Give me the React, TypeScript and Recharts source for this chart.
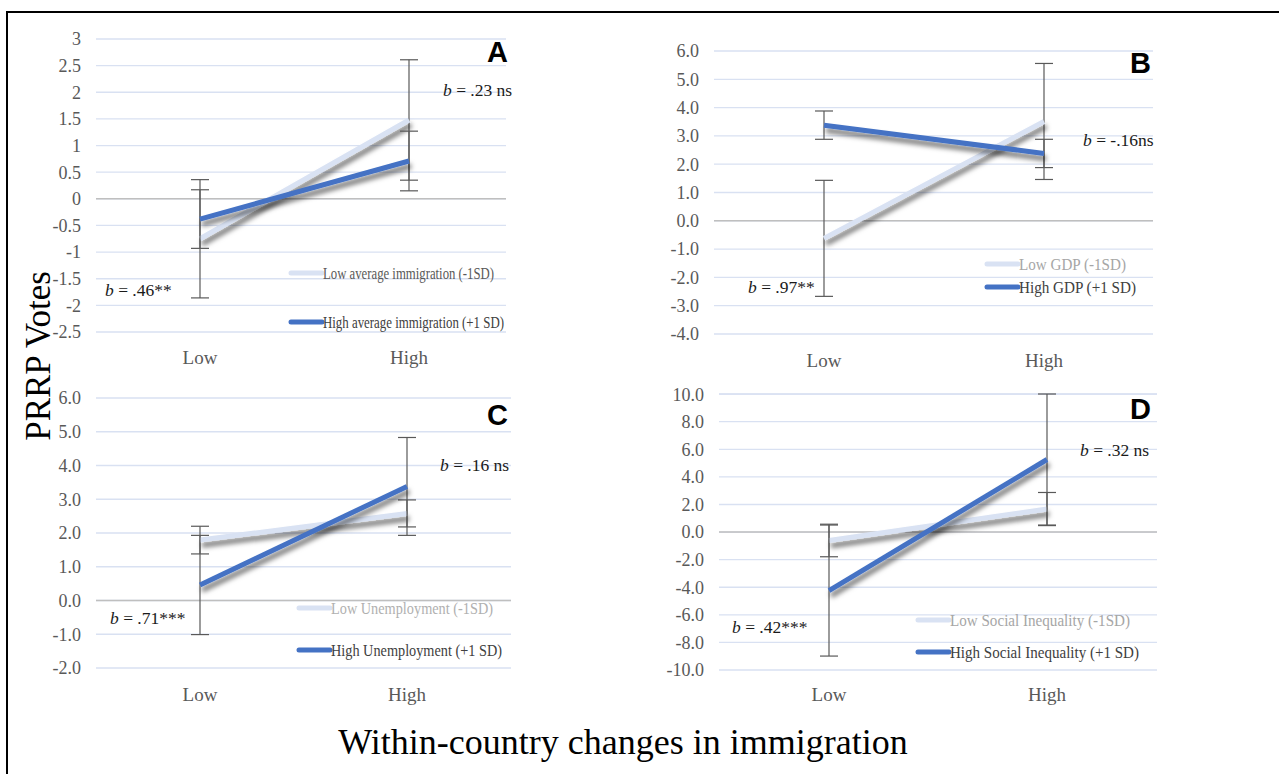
import React from 'react'
import { LineChart, Line, XAxis, YAxis, CartesianGrid, ErrorBar, ReferenceLine } from 'recharts'

const categories = ['Low', 'High']

// Panel A – average immigration
const aLowSeries = [-0.75, 1.48]
const aLowErr = [1.11, 1.13]
const aHighSeries = [-0.38, 0.71]
const aHighErr = [0.55, 0.56]
const aTicks = [-2.5, -2, -1.5, -1, -0.5, 0, 0.5, 1, 1.5, 2, 2.5, 3]

// Panel B – GDP
const bLowSeries = [-0.62, 3.51]
const bLowErr = [2.05, 2.05]
const bHighSeries = [3.38, 2.38]
const bHighErr = [0.5, 0.5]
const bTicks = [-4, -3, -2, -1, 0, 1, 2, 3, 4, 5, 6]

// Panel C – unemployment
const cLowSeries = [1.79, 2.58]
const cLowErr = [0.41, 0.4]
const cHighSeries = [0.46, 3.38]
const cHighErr = [1.47, 1.45]
const cTicks = [-2, -1, 0, 1, 2, 3, 4, 5, 6]

// Panel D – social inequality
const dLowSeries = [-0.61, 1.67]
const dLowErr = [1.18, 1.2]
const dHighSeries = [-4.24, 5.26]
const dHighErr = [4.75, 4.75]
const dTicks = [-10, -8, -6, -4, -2, 0, 2, 4, 6, 8, 10]

const LIGHT = '#d9e2f3'
const BLUE = '#4472c4'
const SERIF = '"Liberation Serif", "Times New Roman", serif'

const build = (low: number[], lowErr: number[], high: number[], highErr: number[]) =>
  categories.map((cat, i) => ({ cat, low: low[i], lowErr: lowErr[i], high: high[i], highErr: highErr[i] }))

const fmtInt = (v: number) => String(v)
const fmtOne = (v: number) => v.toFixed(1)

interface PanelProps {
  data: ReturnType<typeof build>
  ticks: number[]
  fmt: (v: number) => string
  x: number
  y: number
  w: number
  h: number
  padL: number
  padR: number
  catMargin: number
}

function Panel({ data, ticks, fmt, x, y, w, h, padL, padR, catMargin }: PanelProps) {
  const yAxisW = 90
  return (
    <div style={{ position: 'absolute', left: x - yAxisW, top: y - 12 }}>
      <LineChart
        width={w + yAxisW + 12}
        height={h + 70}
        data={data}
        margin={{ top: 12, right: 12, left: 0, bottom: 18 }}
      >
        <CartesianGrid vertical={false} stroke="#d9e1f2" strokeWidth={1.3} />
        <XAxis
          dataKey="cat"
          axisLine={false}
          tickLine={false}
          tickSize={0}
          tickMargin={catMargin}
          height={40}
          interval={0}
          padding={{ left: padL, right: padR }}
          tick={{ fill: '#595959', fontSize: 19, fontFamily: SERIF }}
        />
        <YAxis
          type="number"
          domain={[ticks[0], ticks[ticks.length - 1]]}
          ticks={ticks}
          interval={0}
          tickFormatter={fmt}
          width={yAxisW}
          axisLine={false}
          tickLine={false}
          tickSize={0}
          tickMargin={15}
          tick={{ fill: '#595959', fontSize: 18, fontFamily: SERIF }}
        />
        <ReferenceLine y={0} stroke="#bfbfbf" strokeWidth={1.6} />
        <Line
          dataKey="low"
          stroke={LIGHT}
          strokeWidth={5}
          dot={false}
          className="shadowed"
          isAnimationActive={false}
        >
          <ErrorBar dataKey="lowErr" width={9} stroke="#595959" strokeWidth={1.2} />
        </Line>
        <Line
          dataKey="high"
          stroke={BLUE}
          strokeWidth={5}
          dot={false}
          className="shadowed"
          isAnimationActive={false}
        >
          <ErrorBar dataKey="highErr" width={9} stroke="#595959" strokeWidth={1.2} />
        </Line>
      </LineChart>
    </div>
  )
}

function Note({ x, y, rest }: { x: number; y: number; rest: string }) {
  return (
    <text x={x} y={y} dominantBaseline="central" fontFamily={SERIF} fontSize={17.5} fill="#1a1a1a">
      <tspan fontStyle="italic">b</tspan>
      {rest}
    </text>
  )
}

function Letter({ x, y, t }: { x: number; y: number; t: string }) {
  return (
    <text x={x} y={y} fontFamily='"Liberation Sans", Arial, sans-serif' fontWeight="bold" fontSize={29} fill="#000">
      {t}
    </text>
  )
}

function LegendItem({ x, y, label, len, color, textColor }: {
  x: number; y: number; label: string; len: number; color: string; textColor: string
}) {
  return (
    <g>
      <line x1={x} x2={x + 31} y1={y} y2={y} stroke={color} strokeWidth={5} strokeLinecap="round" />
      <text
        x={x + 32}
        y={y}
        dominantBaseline="central"
        fontFamily={SERIF}
        fontSize={17.5}
        fill={textColor}
        textLength={len}
        lengthAdjust="spacingAndGlyphs"
      >
        {label}
      </text>
    </g>
  )
}

export default function App() {
  return (
    <div style={{ position: 'absolute', left: 0, top: 0, width: 1279, height: 774, background: '#fff', overflow: 'hidden' }}>
      <style>{`.shadowed .recharts-line-curve { filter: url(#lineShadow); }`}</style>
      <svg width={0} height={0} style={{ position: 'absolute' }}>
        <defs>
          <filter id="lineShadow" filterUnits="userSpaceOnUse" x={-200} y={-200} width={2000} height={2000}>
            <feDropShadow dx={2} dy={5} stdDeviation={2.8} floodColor="#000" floodOpacity={0.55} />
          </filter>
        </defs>
      </svg>

      <Panel data={build(aLowSeries, aLowErr, aHighSeries, aHighErr)} ticks={aTicks} fmt={fmtInt}
        x={96} y={39} w={410} h={293} padL={104} padR={97} catMargin={19} />
      <Panel data={build(bLowSeries, bLowErr, bHighSeries, bHighErr)} ticks={bTicks} fmt={fmtOne}
        x={714} y={51} w={439} h={283} padL={110} padR={109} catMargin={20} />
      <Panel data={build(cLowSeries, cLowErr, cHighSeries, cHighErr)} ticks={cTicks} fmt={fmtOne}
        x={96} y={398} w={415} h={270} padL={104} padR={104} catMargin={20} />
      <Panel data={build(dLowSeries, dLowErr, dHighSeries, dHighErr)} ticks={dTicks} fmt={fmtOne}
        x={719} y={394} w={438} h={276} padL={110} padR={110} catMargin={18} />

      <svg width={1279} height={774} style={{ position: 'absolute', left: 0, top: 0, pointerEvents: 'none' }}>
        <rect x={6} y={11} width={1273} height={2} fill="#000" />
        <rect x={6} y={11} width={2} height={763} fill="#000" />

        <Letter x={487} y={62} t="A" />
        <Letter x={1130} y={73} t="B" />
        <Letter x={487} y={425} t="C" />
        <Letter x={1130} y={419} t="D" />

        <Note x={443} y={90} rest=" = .23 ns" />
        <Note x={105} y={290} rest=" = .46**" />
        <Note x={1083} y={140} rest=" = -.16ns" />
        <Note x={748} y={287} rest=" = .97**" />
        <Note x={440} y={465} rest=" = .16 ns" />
        <Note x={110} y={618} rest=" = .71***" />
        <Note x={1080} y={450} rest=" = .32 ns" />
        <Note x={732} y={627} rest=" = .42***" />

        <LegendItem x={291} y={273} label="Low average immigration (-1SD)" len={171} color={LIGHT} textColor="#595959" />
        <LegendItem x={291} y={322} label="High average immigration (+1 SD)" len={181} color={BLUE} textColor="#404040" />
        <LegendItem x={987} y={264} label="Low GDP (-1SD)" len={107} color={LIGHT} textColor="#a6a6a6" />
        <LegendItem x={987} y={287} label="High GDP (+1 SD)" len={117} color={BLUE} textColor="#404040" />
        <LegendItem x={299} y={608} label="Low Unemployment (-1SD)" len={162} color={LIGHT} textColor="#b0b0b0" />
        <LegendItem x={299} y={650} label="High Unemployment (+1 SD)" len={171} color={BLUE} textColor="#404040" />
        <LegendItem x={918} y={620} label="Low Social Inequality (-1SD)" len={180} color={LIGHT} textColor="#a6a6a6" />
        <LegendItem x={918} y={652} label="High Social Inequality (+1 SD)" len={189} color={BLUE} textColor="#404040" />

        <text x={50} y={356} transform="rotate(-90 50 356)" textAnchor="middle" fontFamily={SERIF} fontSize={35} fill="#000">
          PRRP Votes
        </text>
        <text x={623} y={754} textAnchor="middle" fontFamily={SERIF} fontSize={36} fill="#000">
          Within-country changes in immigration
        </text>
      </svg>
    </div>
  )
}
